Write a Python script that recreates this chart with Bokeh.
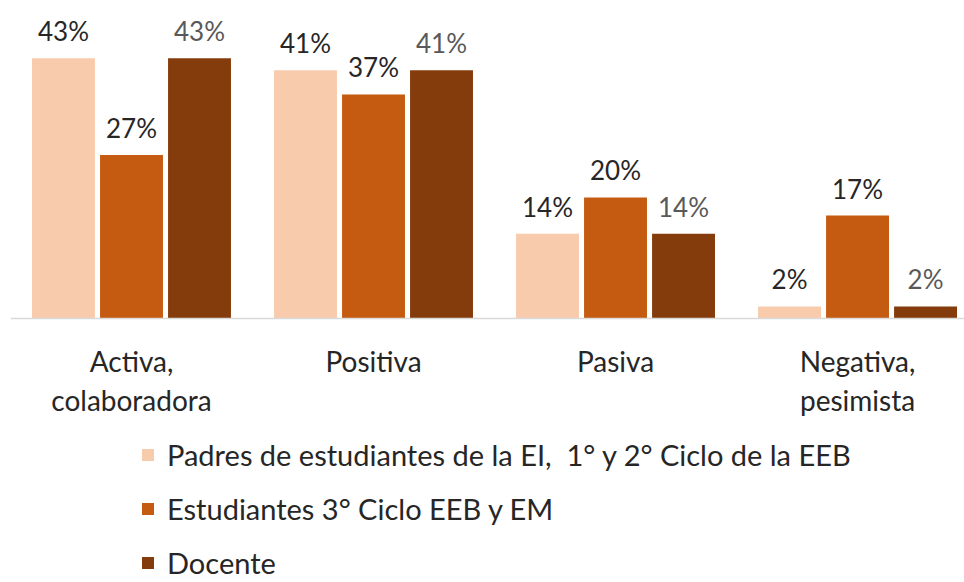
from bokeh.plotting import figure
from bokeh.models import ColumnDataSource, Legend, LegendItem, FixedTicker, Range1d, LinearAxis
from bokeh.core.properties import value
from bokeh.embed import file_html
from bokeh.resources import INLINE

categories = ["Activa,\ncolaboradora", "Positiva", "Pasiva", "Negativa,\npesimista"]
series_names = ["Padres de estudiantes de la EI,  1° y 2° Ciclo de la EEB",
                "Estudiantes 3° Ciclo EEB y EM",
                "Docente"]
padres = [43, 41, 14, 2]
estudiantes = [27, 37, 20, 17]
docente = [43, 41, 14, 2]

colors = ["#F8CBAD", "#C55A11", "#843C0C"]
label_colors = ["#262626", "#262626", "#595959"]
offsets = [-0.281, 0.0, 0.281]
FONT = "Lato"

p = figure(width=964, height=582, output_backend="svg", toolbar_location=None,
           x_range=Range1d(-0.5, 3.442), y_range=Range1d(-43.6, 52.52),
           x_axis_location=None, y_axis_location=None,
           min_border_left=10, min_border_right=0, min_border_top=0, min_border_bottom=0)
p.outline_line_color = None
p.background_fill_color = "white"
p.border_fill_color = "white"
p.grid.visible = False

xs = list(range(len(categories)))
items = []
for name, vals, col, lcol, off in zip(series_names, [padres, estudiantes, docente], colors, label_colors, offsets):
    src = ColumnDataSource(dict(x=[i + off for i in xs], top=vals,
                                lab=[f"{v}%" for v in vals]))
    r = p.vbar(x="x", top="top", bottom=0, width=0.26, source=src, fill_color=col, line_color=None)
    p.text(x="x", y="top", text="lab", source=src, text_align="center",
           text_baseline="alphabetic", y_offset=-27, text_font=value(FONT),
           text_font_size="26px", text_color=lcol)
    items.append(LegendItem(label=name, renderers=[r]))

xa = LinearAxis(fixed_location=0)
xa.ticker = FixedTicker(ticks=xs)
xa.major_label_overrides = {i: c for i, c in enumerate(categories)}
xa.axis_line_color = "#D9D9D9"
xa.axis_line_width = 1.5
xa.major_tick_line_color = None
xa.minor_tick_line_color = None
xa.major_label_text_font = FONT
xa.major_label_text_font_size = "28px"
xa.major_label_text_color = "#262626"
xa.major_label_standoff = 19
xa.major_label_text_line_height = 1.15
p.add_layout(xa, "below")

legend = Legend(items=items, location=(130, 2), orientation="vertical",
                glyph_width=15, glyph_height=15, label_standoff=12,
                label_height=30,
                label_text_font=FONT, label_text_font_size="29px",
                label_text_line_height=1.0,
                label_text_color="#262626", spacing=19, padding=0, margin=0,
                border_line_color=None, background_fill_alpha=0)
p.add_layout(legend, "center")

open("out.html", "w").write(file_html(p, INLINE))
